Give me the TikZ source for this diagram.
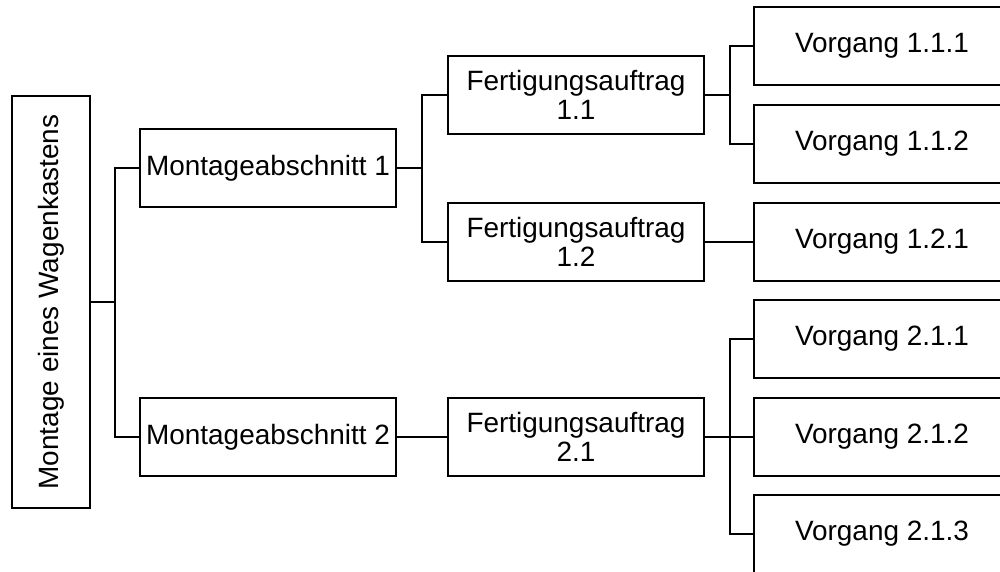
\documentclass[tikz,border=0pt]{standalone}
\usepackage{fontspec}
\setmainfont{Liberation Sans}
\begin{document}
\begin{tikzpicture}[x=0.02cm,y=-0.02cm,
  every node/.style={font=\fontsize{15.9}{16.5}\selectfont},
  box/.style={draw, line width=0.04cm, fill=white, align=center, inner sep=0pt,
    minimum width=256*0.02cm, minimum height=78*0.02cm},
  rootbox/.style={draw, line width=0.04cm, inner sep=0pt,
    minimum width=78*0.02cm, minimum height=412*0.02cm},
  link/.style={line width=0.04cm, line join=miter}]
\useasboundingbox (0,0) rectangle (1000,571);
\begin{scope}
\clip (0,0) rectangle (1000,571);

% root
\node[rootbox] (root) at (51,302) {};
\node[rotate=90] (roottext) at (51,302) {Montage eines Wagenkastens};

% assembly sections
\node[box] (ma1) at (268,168) {Montageabschnitt 1};
\node[box] (ma2) at (268,437) {Montageabschnitt 2};

% production orders
\node[box] (fa11) at (576,95) {Fertigungsauftrag\\1.1};
\node[box] (fa12) at (576,242) {Fertigungsauftrag\\1.2};
\node[box] (fa21) at (576,437) {Fertigungsauftrag\\2.1};

% operations
\node[box] (v111) at (882,46) {Vorgang 1.1.1};
\node[box] (v112) at (882,144) {Vorgang 1.1.2};
\node[box] (v121) at (882,242) {Vorgang 1.2.1};
\node[box] (v211) at (882,339) {Vorgang 2.1.1};
\node[box] (v212) at (882,437) {Vorgang 2.1.2};
\node[box] (v213) at (882,534) {Vorgang 2.1.3};
\end{scope}

% bus points
\coordinate (b0) at (115,302);
\coordinate (b1) at (422,168);
\coordinate (b2) at (730,95);
\coordinate (b3) at (730,437);

% connectors
\draw[link] (root.east) -- (b0);
\draw[link] (ma1.west) -| (b0) |- (ma2.west);
\draw[link] (ma1.east) -- (b1);
\draw[link] (fa11.west) -| (b1) |- (fa12.west);
\draw[link] (ma2.east) -- (fa21.west);
\draw[link] (fa11.east) -- (b2);
\draw[link] (v111.west) -| (b2) |- (v112.west);
\draw[link] (fa12.east) -- (v121.west);
\draw[link] (fa21.east) -- (v212.west);
\draw[link] (v211.west) -| (b3) |- (v213.west);
\end{tikzpicture}
\end{document}
